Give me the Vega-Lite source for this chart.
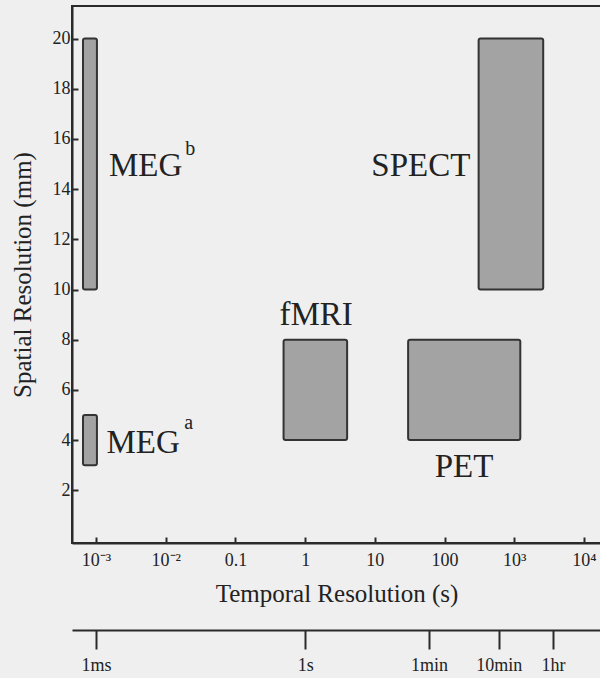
{
  "$schema": "https://vega.github.io/schema/vega-lite/v6.json",
  "autosize": {"type": "none"},
  "padding": {"left": 72, "top": 6, "right": 0, "bottom": 135},
  "width": 529,
  "height": 537,
  "background": "#efefef",
  "config": {
    "view": {"stroke": "#2a2a2a", "strokeWidth": 2},
    "font": "Liberation Serif",
    "axis": {"grid": false, "domainColor": "#2a2a2a", "domainWidth": 2, "tickColor": "#2a2a2a", "tickWidth": 2, "labelColor": "#222", "titleColor": "#222", "labelFont": "Liberation Serif", "titleFont": "Liberation Serif", "titleFontWeight": "normal"}
  },
  "layer": [
    {
      "data": {"values": [
        {"tech": "MEG b", "t0": 0.00065, "t1": 0.00103, "s0": 10, "s1": 20},
        {"tech": "MEG a", "t0": 0.00065, "t1": 0.00103, "s0": 3, "s1": 5},
        {"tech": "fMRI", "t0": 0.49, "t1": 4.0, "s0": 4, "s1": 8},
        {"tech": "PET", "t0": 30, "t1": 1220, "s0": 4, "s1": 8},
        {"tech": "SPECT", "t0": 308, "t1": 2600, "s0": 10, "s1": 20}
      ]},
      "mark": {"type": "rect", "fill": "#a3a3a3", "stroke": "#333333", "strokeWidth": 2, "cornerRadius": 2},
      "encoding": {
        "x": {"field": "t0", "type": "quantitative",
          "scale": {"type": "log", "domain": [0.000452, 17540], "nice": false},
          "axis": {"values": [0.001, 0.01, 0.1, 1, 10, 100, 1000, 10000],
            "labelExpr": "datum.value < 0.005 ? '10⁻³' : datum.value < 0.05 ? '10⁻²' : datum.value < 0.5 ? '0.1' : datum.value < 5 ? '1' : datum.value < 50 ? '10' : datum.value < 500 ? '100' : datum.value < 5000 ? '10³' : '10⁴'",
            "tickSize": -6, "labelPadding": 14, "labelFontSize": 18, "labelFlush": false,
            "title": "Temporal Resolution (s)", "titleFontSize": 25, "titlePadding": 12}},
        "x2": {"field": "t1"},
        "y": {"field": "s0", "type": "quantitative",
          "scale": {"domain": [-0.1, 21.3], "nice": false, "zero": false},
          "axis": {"values": [2, 4, 6, 8, 10, 12, 14, 16, 18, 20], "tickSize": -6, "labelPadding": 8, "labelFontSize": 18,
            "title": "Spatial Resolution (mm)", "titleFontSize": 25, "titlePadding": 17}},
        "y2": {"field": "s1"}
      }
    },
    {
      "data": {"values": [
        {"label": "MEG", "t": 0.00515, "s": 14.54},
        {"label": "MEG", "t": 0.00474, "s": 3.5},
        {"label": "SPECT", "t": 45.7, "s": 14.54},
        {"label": "fMRI", "t": 1.44, "s": 8.57},
        {"label": "PET", "t": 190, "s": 2.55}
      ]},
      "mark": {"type": "text", "fontSize": 33, "font": "Liberation Serif", "color": "#222", "baseline": "alphabetic", "align": "center"},
      "encoding": {
        "x": {"field": "t", "type": "quantitative", "axis": null},
        "y": {"field": "s", "type": "quantitative"},
        "text": {"field": "label"}
      }
    },
    {
      "data": {"values": [
        {"label": "b", "t": 0.0224, "s": 15.38},
        {"label": "a", "t": 0.0214, "s": 4.46}
      ]},
      "mark": {"type": "text", "fontSize": 20, "font": "Liberation Serif", "color": "#222", "baseline": "alphabetic", "align": "center"},
      "encoding": {
        "x": {"field": "t", "type": "quantitative", "axis": null},
        "y": {"field": "s", "type": "quantitative"},
        "text": {"field": "label"}
      }
    },
    {
      "data": {"values": [
        {"t": 0.001, "name": "1ms"},
        {"t": 1, "name": "1s"},
        {"t": 60, "name": "1min"},
        {"t": 600, "name": "10min"},
        {"t": 3600, "name": "1hr"}
      ]},
      "mark": {"type": "point", "opacity": 0},
      "encoding": {
        "x": {"field": "t", "type": "quantitative",
          "axis": {"orient": "bottom", "offset": 87, "values": [0.001, 1, 60, 600, 3600],
            "labelExpr": "datum.value < 0.01 ? '1ms' : datum.value < 2 ? '1s' : datum.value < 100 ? '1min' : datum.value < 1000 ? '10min' : '1hr'",
            "tickSize": 19, "labelPadding": 7, "labelFontSize": 18, "labelFlush": false, "title": null}}
      }
    }
  ],
  "resolve": {"axis": {"x": "independent"}}
}
